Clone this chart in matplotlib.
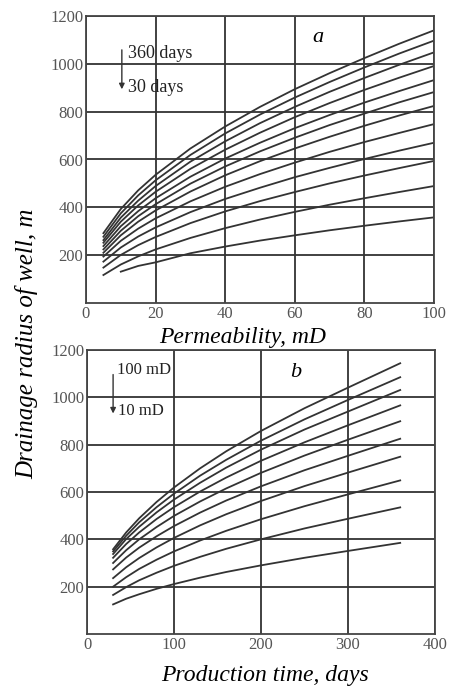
import matplotlib
matplotlib.use('Agg')
import matplotlib.pyplot as plt

plt.rcParams['font.family'] = ['Liberation Serif', 'DejaVu Serif']

# ---- panel a: radius vs permeability, one curve per production time ----
perm = [5, 10, 15, 20, 30, 40, 50, 60, 70, 80, 90, 100]
perm_30 = [10, 15, 20, 30, 40, 50, 60, 70, 80, 90, 100]
radius_30d = [131, 155, 170, 208, 236, 261, 283, 304, 323, 341, 358]
radius_by_days = {
    60:  [117, 161, 195, 224, 272, 313, 349, 381, 411, 438, 464, 489],
    90:  [148, 201, 242, 276, 334, 383, 426, 464, 500, 533, 564, 594],
    120: [173, 232, 278, 316, 380, 435, 482, 526, 565, 602, 637, 670],
    150: [194, 260, 311, 354, 425, 486, 539, 587, 632, 673, 711, 748],
    180: [210, 283, 340, 387, 466, 534, 593, 646, 695, 741, 784, 824],
    210: [224, 302, 363, 413, 499, 571, 634, 691, 744, 792, 839, 882],
    240: [238, 321, 384, 438, 528, 604, 670, 731, 786, 838, 886, 932],
    270: [252, 340, 408, 465, 561, 641, 712, 777, 836, 891, 942, 991],
    300: [263, 357, 428, 489, 591, 676, 752, 820, 883, 941, 996, 1048],
    330: [277, 375, 450, 513, 619, 709, 788, 859, 924, 985, 1043, 1097],
    360: [292, 393, 471, 536, 646, 738, 820, 894, 961, 1024, 1084, 1140],
}

# ---- panel b: radius vs production time, one curve per permeability ----
days = [30, 45, 60, 80, 100, 130, 160, 200, 250, 300, 360]
radius_by_perm = {
    10:  [125, 149, 168, 191, 211, 238, 262, 290, 322, 351, 385],
    20:  [165, 198, 227, 259, 288, 326, 360, 400, 446, 487, 535],
    30:  [200, 240, 275, 314, 349, 395, 436, 485, 540, 590, 649],
    40:  [236, 282, 321, 366, 406, 459, 506, 562, 625, 682, 749],
    50:  [273, 323, 365, 413, 456, 513, 564, 624, 692, 753, 825],
    60:  [300, 354, 400, 452, 499, 560, 615, 681, 754, 821, 899],
    70:  [322, 380, 429, 486, 536, 602, 661, 732, 810, 882, 966],
    80:  [338, 401, 453, 514, 568, 639, 703, 779, 864, 940, 1031],
    90:  [349, 415, 472, 536, 593, 669, 736, 817, 907, 989, 1085],
    100: [358, 429, 489, 558, 619, 700, 772, 858, 954, 1041, 1144],
}

LINE = '#333333'
W, H = 462, 696
fig = plt.figure(figsize=(W / 100, H / 100), dpi=100)
fig.patch.set_facecolor('white')

ax1 = fig.add_axes([86 / W, 1 - 303 / H, 348 / W, 287 / H])
ax2 = fig.add_axes([87 / W, 1 - 634 / H, 348 / W, 284 / H])


def style(ax, xmax, xstep):
    ax.set_ylim(0, 1200)
    ax.set_xlim(0, xmax)
    ax.set_xticks(range(0, xmax + 1, xstep))
    ax.set_yticks(range(200, 1201, 200))
    ax.grid(True, color=LINE, linewidth=1.3)
    ax.set_axisbelow(True)
    for s in ax.spines.values():
        s.set_color('#444')
        s.set_linewidth(1.3)
    ax.tick_params(length=0, pad=2, labelsize=12, labelcolor='#555')


style(ax1, 100, 20)
ax1.plot(perm_30, radius_30d, color=LINE, lw=1.3)
for d, r in radius_by_days.items():
    ax1.plot(perm, r, color=LINE, lw=1.3)
ax1.text(66.7, 1112, 'a', fontsize=16, style='italic', ha='center', va='center')
ax1.annotate('', xy=(10.3, 882), xytext=(10.3, 1070),
             arrowprops=dict(arrowstyle='-|>', color=LINE, lw=1.0, mutation_scale=8))
ax1.text(12, 1045, '360 days', fontsize=13, va='center', color='#222')
ax1.text(12, 903, '30 days', fontsize=13, va='center', color='#222')

style(ax2, 400, 100)
for k, r in radius_by_perm.items():
    ax2.plot(days, r, color=LINE, lw=1.3)
ax2.text(240, 1107, 'b', fontsize=16, style='italic', ha='center', va='center')
ax2.annotate('', xy=(30, 920), xytext=(30, 1108),
             arrowprops=dict(arrowstyle='-|>', color=LINE, lw=1.0, mutation_scale=8))
ax2.text(34.5, 1115, '100 mD', fontsize=12, va='center', color='#222')
ax2.text(36, 943, '10 mD', fontsize=12, va='center', color='#222')

# axis titles placed where the reference has them
fig.text(243 / W, 1 - 337 / H, 'Permeability, mD', fontsize=17, style='italic',
         ha='center', va='center')
fig.text(265 / W, 1 - 676 / H, 'Production time, days', fontsize=17, style='italic',
         ha='center', va='center')
fig.text(27 / W, 1 - 344 / H, 'Drainage radius of well, m', rotation=90,
         fontsize=18, style='italic', ha='center', va='center')

fig.savefig('out.png', dpi=100)
